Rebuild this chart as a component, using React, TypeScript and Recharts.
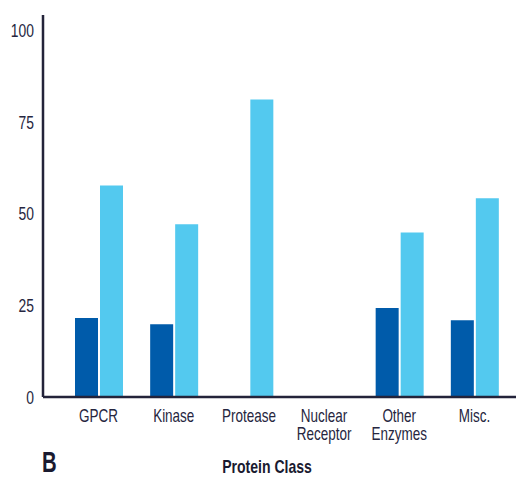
import React from "react";
import { BarChart, Bar, XAxis, YAxis } from "recharts";

const categories = ["GPCR", "Kinase", "Protease", "Nuclear\nReceptor", "Other\nEnzymes", "Misc."];
const darkValues = [21.5, 19.8, 0, 0, 24.2, 20.9];
const lightValues = [57.6, 47.0, 81.0, 0, 44.8, 54.1];
const yTicks = [0, 25, 50, 75, 100];

const data = categories.map((c, i) => ({ name: c, dark: darkValues[i], light: lightValues[i] }));

const FONT = "'Liberation Sans', Arial, sans-serif";
const TEXT = "#262640";
const SX = 0.75;

const XTick = (props: any) => {
  const { x, y, payload } = props;
  const lines = String(payload.value).split("\n");
  return (
    <g transform={`translate(${x},${y}) scale(${SX},1)`}>
      <text x={0} y={0} textAnchor="middle" fill={TEXT} fontFamily={FONT} fontSize={18}>
        {lines.map((l: string, i: number) => (
          <tspan key={i} x={0} y={25 + i * 18}>{l}</tspan>
        ))}
      </text>
    </g>
  );
};

const YTick = (props: any) => {
  const { x, y, payload } = props;
  return (
    <g transform={`translate(${x},${y}) scale(${SX},1)`}>
      <text x={0} y={7} textAnchor="end" fill={TEXT} fontFamily={FONT} fontSize={18.5}>
        {payload.value}
      </text>
    </g>
  );
};

export default function App() {
  return (
    <div style={{ position: "absolute", left: 0, top: 0, width: 516, height: 477, background: "#fff" }}>
      <BarChart width={516} height={477} data={data} margin={{ top: 15, right: 0, bottom: 0, left: 0 }} barSize={23} barGap={2}>
        <XAxis
          dataKey="name"
          interval={0}
          padding={{ left: 18, right: 4 }}
          tickLine={false}
          tickSize={0}
          tickMargin={0}
          height={80}
          tick={<XTick />}
          axisLine={{ stroke: "#23233a", strokeWidth: 2.5 }}
        />
        <YAxis
          domain={[0, 104]}
          ticks={yTicks}
          width={43}
          tickLine={false}
          tickSize={0}
          tickMargin={9}
          tick={<YTick />}
          axisLine={{ stroke: "#23233a", strokeWidth: 2.5 }}
          allowDataOverflow
        />
        <Bar dataKey="dark" fill="#005BAA" isAnimationActive={false} />
        <Bar dataKey="light" fill="#53C9EF" isAnimationActive={false} />
      </BarChart>
      <svg width={516} height={477} style={{ position: "absolute", left: 0, top: 0, pointerEvents: "none" }}>
        <g transform="translate(42,472) scale(0.7,1)">
          <text x={0} y={0} fontFamily={FONT} fontWeight={700} fontSize={29} fill="#1a1a30">B</text>
        </g>
        <g transform="translate(267,473) scale(0.78,1)">
          <text x={0} y={0} textAnchor="middle" fontFamily={FONT} fontWeight={700} fontSize={18} fill="#1a1a30">Protein Class</text>
        </g>
      </svg>
    </div>
  );
}
